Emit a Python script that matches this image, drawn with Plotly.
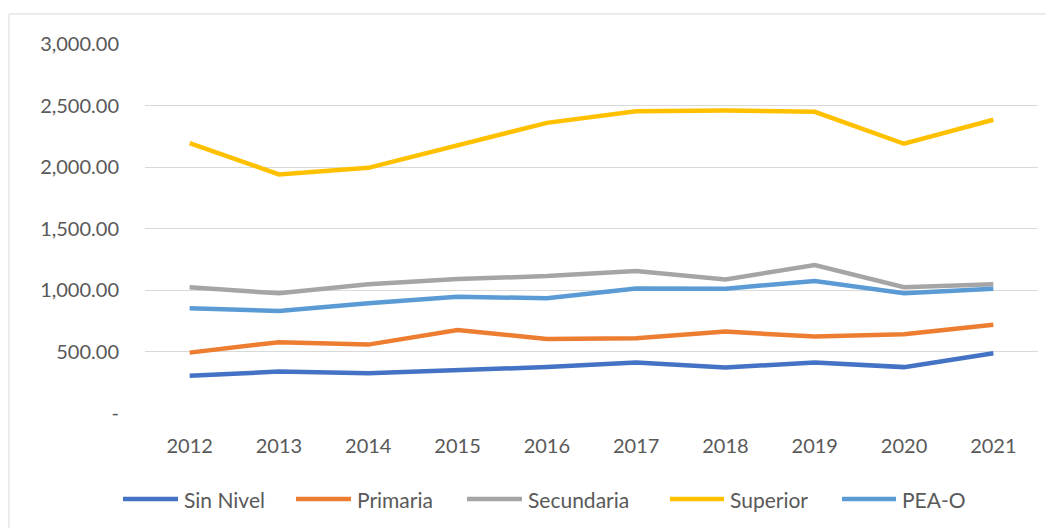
import plotly.graph_objects as go

years = ["2012", "2013", "2014", "2015", "2016", "2017", "2018", "2019", "2020", "2021"]
sin_nivel = [302, 337, 324, 351, 373, 410, 370, 410, 373, 486]
primaria = [491, 576, 556, 675, 602, 608, 662, 621, 640, 718]
secundaria = [1022, 973, 1046, 1089, 1113, 1154, 1086, 1202, 1022, 1046]
superior = [2194, 1940, 1993, 2175, 2359, 2454, 2459, 2449, 2189, 2384]
pea_o = [851, 829, 892, 946, 932, 1013, 1011, 1073, 973, 1011]

series_names = ["Sin Nivel", "Primaria", "Secundaria", "Superior", "PEA-O"]
series_colors = ["#4472C4", "#ED7D31", "#A5A5A5", "#FFC000", "#5B9BD5"]
series_values = [sin_nivel, primaria, secundaria, superior, pea_o]

y_ticks = [0, 500, 1000, 1500, 2000, 2500, 3000]
y_tick_labels = ["-", "500.00", "1,000.00", "1,500.00", "2,000.00", "2,500.00", "3,000.00"]

# figure geometry (page body has an 8px margin, so figure is 8px smaller)
W, H = 1046, 520
L, R, T, B = 137, 16, 36, 115
PW, PH = W - L - R, H - T - B


def px_x(px):  # screen pixel -> paper x
    return (px - 8 - L) / PW


def px_y(py):  # screen pixel -> paper y
    return (H - B - (py - 8)) / PH


fig = go.Figure()
for name, vals, color in zip(series_names, series_values, series_colors):
    fig.add_trace(go.Scatter(x=years, y=vals, name=name, mode="lines",
                             line=dict(color=color, width=4.5), showlegend=False))

font_col = "#595959"
font_fam = "Lato, Carlito, Calibri, sans-serif"

shapes = [dict(type="rect", xref="paper", yref="paper",
               x0=px_x(9), x1=px_x(1100), y0=px_y(600), y1=px_y(14),
               line=dict(color="#D9D9D9", width=1), fillcolor="rgba(0,0,0,0)",
               layer="below")]
annotations = []

# manual legend (screen pixel positions of line start / end / text start)
legend_pos = [(123, 178, 182), (296, 351, 355), (467, 522, 526), (670, 724, 728), (842, 896, 900)]
leg_y = px_y(499)
for (x0, x1, xt), name, color in zip(legend_pos, series_names, series_colors):
    shapes.append(dict(type="line", xref="paper", yref="paper",
                       x0=px_x(x0), x1=px_x(x1), y0=leg_y, y1=leg_y,
                       line=dict(color=color, width=4.5)))
    annotations.append(dict(text=name, xref="paper", yref="paper", x=px_x(xt), y=leg_y,
                            xanchor="left", yanchor="middle", showarrow=False,
                            font=dict(family=font_fam, size=21, color=font_col)))

fig.update_layout(
    width=W, height=H,
    paper_bgcolor="white", plot_bgcolor="white",
    margin=dict(l=L, r=R, t=T, b=B),
    font=dict(family=font_fam, size=20, color=font_col),
    showlegend=False,
    xaxis=dict(type="category", range=[-0.5, 9.5], showgrid=False, showline=False,
               zeroline=False, ticks="", ticklabelstandoff=19,
               tickfont=dict(size=20, color=font_col)),
    yaxis=dict(range=[0, 3000], tickvals=y_ticks, ticktext=y_tick_labels,
               showgrid=True, gridcolor="#D9D9D9", gridwidth=1, zeroline=False,
               showline=False, ticks="", ticklabelstandoff=25,
               tickfont=dict(size=20, color=font_col)),
    shapes=shapes,
    annotations=annotations,
)

fig.write_html("out.html")
